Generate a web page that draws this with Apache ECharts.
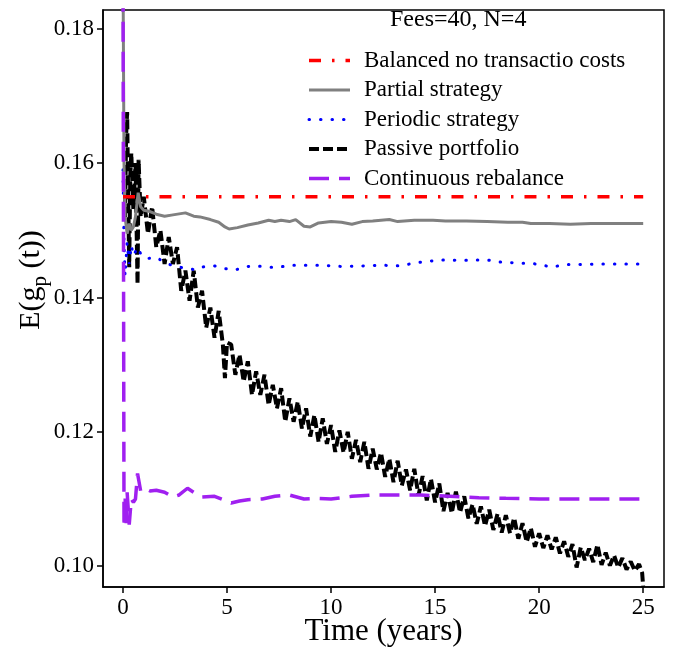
<!DOCTYPE html>
<html>
<head>
<meta charset="utf-8">
<script src="https://cdn.jsdelivr.net/npm/echarts@6/dist/echarts.min.js"></script>
<style>html,body{margin:0;padding:0;background:#fff}#c{width:682px;height:647px}</style>
</head>
<body>
<div id="c"></div>
<script>
const titleText = 'Fees=40, N=4';
const seriesNames = ['Balanced no transactio costs', 'Partial strategy', 'Periodic strategy', 'Passive portfolio', 'Continuous rebalance'];
const xTicks = [0, 5, 10, 15, 20, 25];
const yTicks = [0.10, 0.12, 0.14, 0.16, 0.18];

const balanced = [[0, 0.1550], [25, 0.1550]];

const partial = [[0,0.19],[0.05,0.160],[0.1,0.152],[0.2,0.1495],[0.3,0.1510],[0.4,0.1500],[0.5,0.1505],[0.6,0.1520],[0.73,0.1556],[0.85,0.1535],[1.0,0.1530],[1.3,0.1528],[1.6,0.1524],[2.0,0.1521],[2.4,0.1523],[3.0,0.1526],[3.4,0.1521],[3.7,0.1520],[4.2,0.1516],[4.6,0.1512],[4.9,0.1505],[5.1,0.1502],[5.5,0.1504],[6.0,0.1508],[6.5,0.1511],[7.0,0.1515],[7.3,0.1513],[7.6,0.1515],[8.0,0.1513],[8.3,0.1516],[8.7,0.1506],[9.0,0.1505],[9.4,0.1511],[10,0.1513],[10.5,0.1512],[11,0.1509],[11.5,0.1513],[12,0.1514],[12.8,0.1516],[13.2,0.1513],[14,0.1515],[14.9,0.1515],[15.5,0.1514],[16.5,0.1514],[17.5,0.1513],[18.5,0.1512],[19.2,0.1512],[19.6,0.1510],[20.5,0.1510],[21.5,0.1509],[22.5,0.1510],[23.5,0.1510],[25,0.1510]];

const periodic = [[0,0.159],[0.05,0.1480],[0.1,0.1432],[0.2,0.1482],[0.3,0.1450],[0.4,0.1478],[0.5,0.1462],[0.7,0.1475],[0.9,0.1462],[1.2,0.1458],[1.6,0.1460],[2.0,0.1452],[2.5,0.1446],[3.0,0.1444],[3.5,0.1441],[3.9,0.1446],[4.4,0.1447],[4.9,0.1443],[5.4,0.1441],[5.9,0.1446],[6.4,0.1447],[7.0,0.1445],[7.5,0.1445],[8.0,0.1448],[8.5,0.1448],[9.5,0.1448],[10.6,0.1446],[11.5,0.1447],[12.5,0.1448],[13.3,0.1447],[13.8,0.1450],[14.4,0.1453],[15.0,0.1455],[15.5,0.1456],[16.3,0.1455],[16.9,0.1456],[17.5,0.1456],[18.0,0.1453],[18.6,0.1452],[19.1,0.1451],[19.6,0.1451],[20.2,0.1448],[20.6,0.1445],[21.2,0.1449],[21.9,0.1449],[23,0.1450],[25,0.1450]];

const passive = [[0.1,0.1520],[0.15,0.1640],[0.2,0.1676],[0.25,0.1550],[0.3,0.1445],[0.35,0.1580],[0.4,0.1615],[0.5,0.1530],[0.6,0.1600],[0.7,0.1420],[0.75,0.1605],[0.85,0.1520],
[1.0,0.1550],[1.2,0.1495],[1.4,0.1535],[1.6,0.1475],[1.8,0.1500],[2.0,0.1450],[2.2,0.1490],[2.4,0.1450],[2.6,0.1475],[2.8,0.1410],
[3.0,0.1440],[3.2,0.1395],[3.4,0.1440],[3.6,0.1385],[3.8,0.1410],[4.0,0.1355],[4.2,0.1385],[4.4,0.1340],[4.6,0.1380],[4.8,0.1330],[4.9,0.1280],
[5.0,0.1333],[5.2,0.1330],[5.4,0.1285],[5.6,0.1315],[5.8,0.1275],[6.0,0.1305],[6.2,0.1255],[6.4,0.1290],[6.6,0.1255],[6.8,0.1285],
[7.0,0.1240],[7.2,0.1270],[7.4,0.1235],[7.6,0.1265],[7.8,0.1215],[8.0,0.1250],[8.2,0.1215],[8.4,0.1245],[8.6,0.1205],[8.8,0.1235],
[9.0,0.1193],[9.2,0.1225],[9.4,0.1185],[9.6,0.1220],[9.8,0.1182],[10.0,0.1210],[10.2,0.1170],[10.4,0.1202],[10.6,0.1169],[10.8,0.1200],
[11.0,0.1160],[11.2,0.1188],[11.4,0.1155],[11.6,0.1185],[11.8,0.1145],[12.0,0.1175],[12.2,0.1144],[12.4,0.1169],[12.6,0.1133],[12.8,0.1160],
[13.0,0.1125],[13.2,0.1157],[13.4,0.1120],[13.6,0.1144],[13.8,0.1113],[14.0,0.1145],[14.2,0.1105],[14.4,0.1134],[14.6,0.1098],[14.8,0.1130],
[15.0,0.1095],[15.2,0.1123],[15.4,0.1082],[15.6,0.1109],[15.8,0.1079],[16.0,0.1111],[16.2,0.1080],[16.4,0.1104],[16.6,0.1071],[16.8,0.1092],
[17.0,0.1063],[17.2,0.1089],[17.4,0.1060],[17.6,0.1084],[17.8,0.1054],[18.0,0.1078],[18.2,0.1050],[18.4,0.1076],[18.6,0.1049],[18.8,0.1072],
[19.0,0.1041],[19.2,0.1064],[19.4,0.1036],[19.6,0.1057],[19.8,0.1029],[20.0,0.1049],[20.2,0.1027],[20.4,0.1046],[20.6,0.1025],[20.8,0.1043],
[21.0,0.1019],[21.2,0.1037],[21.4,0.1014],[21.6,0.1033],[21.8,0.0998],[22.0,0.1028],[22.2,0.1009],[22.4,0.1026],[22.6,0.1006],[22.8,0.1032],
[23.0,0.1002],[23.2,0.1020],[23.4,0.1001],[23.6,0.1016],[23.8,0.0998],[24.0,0.1012],[24.2,0.0995],[24.4,0.1007],[24.6,0.0993],[24.8,0.1003],[24.95,0.0990],[25.0,0.0969]];

const continuous = [[0,0.19],[0.05,0.1058],[0.1,0.1105],[0.15,0.1060],[0.2,0.1110],[0.3,0.1062],[0.4,0.1100],[0.5,0.1095],[0.6,0.1100],[0.7,0.1138],[0.78,0.1140],[0.85,0.1112],[1.0,0.1116],[1.3,0.1112],[1.6,0.1113],[2.0,0.1110],[2.4,0.1103],[2.7,0.1106],[3.1,0.1116],[3.4,0.1110],[3.8,0.1103],[4.4,0.1104],[4.9,0.1098],[5.2,0.1094],[5.6,0.1097],[6.0,0.1099],[6.7,0.1100],[7.3,0.1104],[8.0,0.1106],[8.7,0.1100],[9.3,0.1101],[10.0,0.1100],[11,0.1104],[12,0.1106],[13,0.1106],[14.3,0.1106],[15.7,0.1104],[17.1,0.1102],[18.4,0.1101],[20,0.1100],[25,0.1100]];

const FONT = 'Liberation Serif';
const chart = echarts.init(document.getElementById('c'), null, {renderer: 'canvas'});

function lineSeries(name, data, color, width, dash, z, cap) {
  return {
    name: name, type: 'line', data: data, showSymbol: false, symbol: 'none',
    clip: true, z: z, animation: false,
    lineStyle: {color: color, width: width, type: dash, cap: cap || 'butt'},
    itemStyle: {color: color}
  };
}

chart.setOption({
  animation: false,
  backgroundColor: '#fff',
  title: {
    text: titleText, left: 390, top: 8, padding: 0,
    textStyle: {fontFamily: FONT, fontSize: 24, fontWeight: 'normal', color: '#000'}
  },
  legend: {
    orient: 'vertical', left: 307, top: 49, padding: 0,
    itemWidth: 41, itemHeight: 14, itemGap: 6.5,
    data: seriesNames,
    itemStyle: {opacity: 0},
    lineStyle: {width: 'inherit'},
    textStyle: {fontFamily: FONT, fontSize: 23, color: '#000', padding: [0, 0, 0, 9]},
    selectedMode: false
  },
  grid: {left: 103, right: 18, top: 10, bottom: 60, show: true, borderColor: '#000', borderWidth: 1.5,
    containLabel: false, outerBoundsMode: 'none'},
  xAxis: {
    type: 'value', min: -0.96, max: 26,
    name: 'Time (years)', nameLocation: 'middle', nameGap: 29, nameMoveOverlap: false,
    nameTextStyle: {fontFamily: FONT, fontSize: 31, color: '#000', verticalAlign: 'top'},
    axisLine: {show: true, onZero: false, lineStyle: {color: '#000', width: 1.5}},
    axisTick: {show: true, inside: false, length: 6, customValues: xTicks, lineStyle: {color: '#000', width: 1.5}},
    axisLabel: {customValues: xTicks, fontFamily: FONT, fontSize: 23, color: '#000', margin: 9},
    splitLine: {show: false}
  },
  yAxis: {
    type: 'value', min: 0.0969, max: 0.1828,
    axisLine: {show: true, onZero: false, lineStyle: {color: '#000', width: 1.5}},
    axisTick: {show: true, inside: false, length: 6, customValues: yTicks, lineStyle: {color: '#000', width: 1.5}},
    axisLabel: {customValues: yTicks, fontFamily: FONT, fontSize: 23, color: '#000', margin: 9,
      formatter: function (v) { return v.toFixed(2); }},
    splitLine: {show: false}
  },
  graphic: [{
    type: 'text', x: 31, y: 280, rotation: Math.PI / 2, silent: true,
    style: {
      text: '{m|E(g}{s|p}{m| (t))}',
      align: 'center', verticalAlign: 'middle',
      fontFamily: FONT, fontSize: 30, fill: '#000',
      rich: {
        m: {fontFamily: FONT, fontSize: 30, fill: '#000', lineHeight: 40, verticalAlign: 'middle'},
        s: {fontFamily: FONT, fontSize: 21, fill: '#000', lineHeight: 40, verticalAlign: 'bottom', padding: [14, 0, 0, 0]}
      }
    }
  }],
  series: [
    lineSeries(seriesNames[0], balanced, '#ff0000', 3.5, [12, 11, 2.5, 11], 5),
    lineSeries(seriesNames[1], partial, '#808080', 3, 'solid', 4),
    lineSeries(seriesNames[2], periodic, '#0000ff', 3, [0.5, 11], 3, 'round'),
    lineSeries(seriesNames[3], passive, '#000000', 4, [10, 4], 2),
    lineSeries(seriesNames[4], continuous, '#a020f0', 3.5, [20, 10], 6)
  ]
});
</script>
</body>
</html>
